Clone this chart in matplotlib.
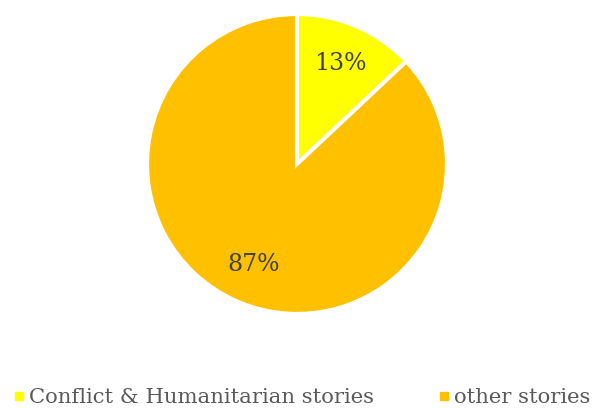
import matplotlib
matplotlib.use("Agg")
import matplotlib.pyplot as plt
from matplotlib.lines import Line2D

categories = ["Conflict & Humanitarian stories", "other stories"]
values = [13, 87]
colors = ["#FFFF00", "#FFC000"]

plt.rcParams['font.family'] = ['DejaVu Serif']

fig = plt.figure(figsize=(5.97, 4.08), dpi=100)
ax = fig.add_axes([0.2462, 0.2304, 0.5025, 0.7353])
wedges, texts, autotexts = ax.pie(
    values, colors=colors, startangle=90, counterclock=False,
    autopct=lambda p: f"{p:.0f}%", pctdistance=0.73,
    wedgeprops=dict(edgecolor="white", linewidth=3),
    textprops=dict(color="#404040", fontsize=17))
ax.set_aspect('equal')
ax.set_xlim(-1, 1)
ax.set_ylim(-1, 1)

handles = [Line2D([], [], marker='s', linestyle='none', markersize=6,
                  markerfacecolor=c, markeredgecolor=c) for c in colors]
leg = fig.legend(handles, categories, loc='lower center', ncol=2,
                 bbox_to_anchor=(0.505, -0.045), frameon=False,
                 fontsize=15.2, handlelength=0.6, handletextpad=0.2,
                 columnspacing=3.0)
for t in leg.get_texts():
    t.set_color("#595959")

fig.savefig("out.png", dpi=100)
